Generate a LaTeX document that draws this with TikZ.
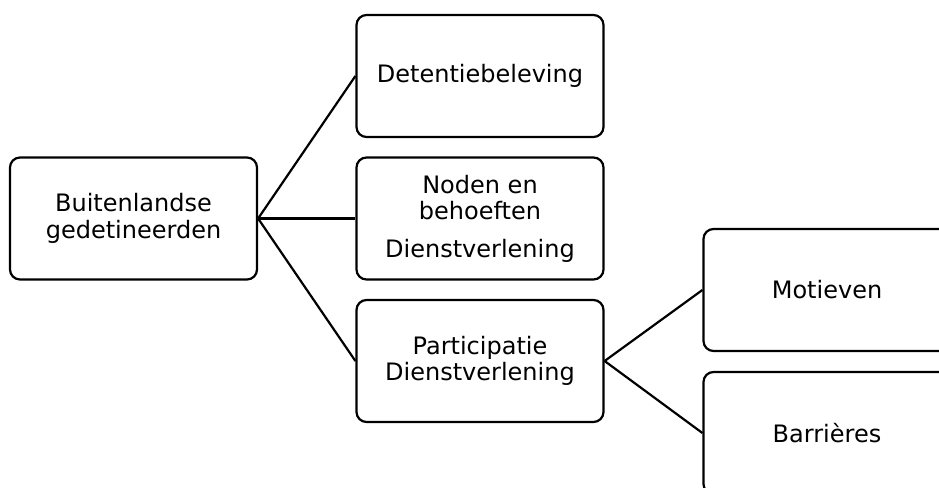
\documentclass[tikz,border=0pt]{standalone}
\usepackage{fontspec}
\setmainfont{DejaVu Sans}
\usetikzlibrary{positioning}
\tikzset{box/.style={draw,line width=2.2pt,rounded corners=10pt,minimum width=247pt,minimum height=122pt,align=center,inner sep=2pt,font=\fontsize{24}{26.5}\selectfont}}
\tikzset{link/.style={line width=2.2pt}}

\begin{document}
\begin{tikzpicture}[x=1pt,y=-1pt]
\useasboundingbox(0,0)rectangle(939,487);\clip(0,0)rectangle(939,487);
\node[box](gedet)at(133.5,218.5){Buitenlandse\\gedetineerden};
\node[box](beleving)at(480,76){Detentiebeleving};
\node[box](noden)at(480,218.5){Noden en\\behoeften\\[11pt]Dienstverlening};
\node[box](partic)at(480,361){Participatie\\Dienstverlening};
\node[box](motief)at(827,290){Motieven};
\node[box](barr)at(827,433){Barrières};
\draw[link](gedet.east)--(beleving.west);\draw[link](gedet.east)--(noden.west);\draw[link](gedet.east)--(partic.west);
\draw[link](partic.east)--(motief.west);\draw[link](partic.east)--(barr.west);
\end{tikzpicture}
\end{document}
